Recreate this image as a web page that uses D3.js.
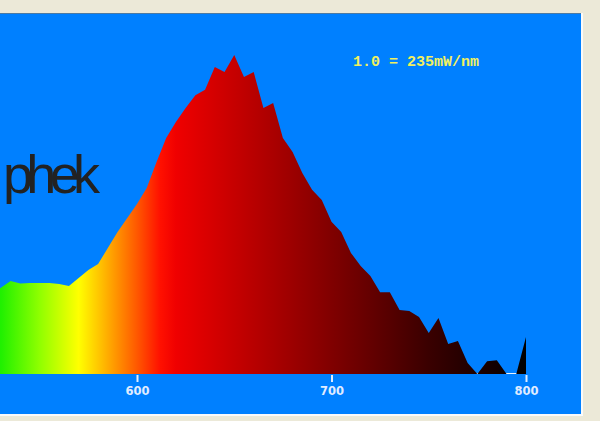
<!DOCTYPE html>
<html>
<head>
<meta charset="utf-8">
<script src="https://cdn.jsdelivr.net/npm/d3@7"></script>
<style>
  html, body { margin: 0; padding: 0; background: #ece9d8; }
  svg { display: block; }
</style>
</head>
<body>
<svg id="chart" width="600" height="421"></svg>
<script>
// ---- data ----
const wavelengths = [525,530,535,540,545,550,555,560,565,570,575,580,585,590,595,600,
  605,610,615,620,625,630,635,640,645,650,655,660,665,670,675,680,685,690,695,700,
  705,710,715,720,725,730,735,740,745,750,755,760,765,770,775,780,785,790,795,800];
const intensity = [0.25,0.261,0.282,0.274,0.276,0.276,0.276,0.273,0.267,0.291,0.315,0.333,0.382,0.430,0.473,0.515,
  0.564,0.642,0.715,0.764,0.806,0.845,0.861,0.930,0.915,0.967,0.900,0.915,0.806,0.821,0.715,0.673,0.609,0.558,0.527,0.461,
  0.430,0.367,0.327,0.297,0.248,0.248,0.194,0.191,0.173,0.124,0.170,0.091,0.100,0.033,0.0,0.039,0.042,0.0,0.0,0.112];
const xTicks = [600, 700, 800];
const scaleNote = "1.0 = 235mW/nm";
const logoText = "phek";

// spectral gradient (style): wavelength -> colour
const gradWl =  [530, 550, 570, 580, 590, 600, 612, 620, 700, 750, 800];
const gradCol = ["#20f000","#90ff00","#ffff00","#ffc800","#ff9000","#ff5800","#ff1000","#f00000","#800000","#3a0000","#000000"];

// ---- drawing ----
const svg = d3.select("#chart");
const x = d3.scaleLinear().domain([600, 800]).range([137, 526]);
const y = d3.scaleLinear().domain([0, 1]).range([374, 44]);

// panel
svg.append("rect").attr("x", 0).attr("y", 0).attr("width", 600).attr("height", 421).attr("fill", "#ece9d8");
svg.append("rect").attr("x", 0).attr("y", 13).attr("width", 581).attr("height", 401).attr("fill", "#0080ff");
svg.append("line").attr("x1", 0).attr("x2", 581).attr("y1", 13.5).attr("y2", 13.5).attr("stroke", "#4d7aa3").attr("stroke-width", 1);
svg.append("line").attr("x1", 582).attr("x2", 582).attr("y1", 13).attr("y2", 416).attr("stroke", "#fafafa").attr("stroke-width", 2);
svg.append("line").attr("x1", 0).attr("x2", 583).attr("y1", 415).attr("y2", 415).attr("stroke", "#fafafa").attr("stroke-width", 2);

// logo text
svg.append("text")
  .attr("x", 3).attr("y", 193)
  .attr("font-family", "Liberation Sans, Arial, sans-serif")
  .attr("font-size", 54)
  .attr("textLength", 97)
  .attr("lengthAdjust", "spacing")
  .attr("fill", "#222")
  .text(logoText);

// gradient
const defs = svg.append("defs");
const grad = defs.append("linearGradient").attr("id", "spec")
  .attr("gradientUnits", "userSpaceOnUse")
  .attr("x1", x(530)).attr("x2", x(800)).attr("y1", 0).attr("y2", 0);
grad.selectAll("stop").data(gradWl).join("stop")
  .attr("offset", d => (d - 530) / (800 - 530))
  .attr("stop-color", (d, i) => gradCol[i]);

// baseline (visible where the spectrum is zero)
svg.append("line")
  .attr("x1", x(530)).attr("x2", x(800))
  .attr("y1", y(0) - 0.5).attr("y2", y(0) - 0.5)
  .attr("stroke", "#e8f2ff").attr("stroke-width", 1);

// area
const data = wavelengths.map((w, i) => ({ w, v: intensity[i] }));
const area = d3.area().x(d => x(d.w)).y0(y(0)).y1(d => y(d.v));
svg.append("path").datum(data).attr("d", area).attr("fill", "url(#spec)");

// axis
const axis = svg.append("g").attr("transform", `translate(0,${y(0) + 1})`)
  .call(d3.axisBottom(x).tickValues(xTicks).tickSize(7).tickPadding(5).tickFormat(d3.format("d")));
axis.select(".domain").remove();
axis.selectAll(".tick line").attr("stroke", "#e0ecff").attr("stroke-width", 2);
axis.selectAll(".tick text")
  .attr("fill", "#e0ecff")
  .attr("font-family", "DejaVu Sans, Verdana, sans-serif")
  .attr("font-weight", "bold")
  .attr("font-size", 11.5);

// scale note
svg.append("text")
  .attr("x", 353).attr("y", 66)
  .attr("font-family", "Liberation Mono, Courier New, monospace")
  .attr("font-weight", "bold")
  .attr("font-size", 15)
  .attr("fill", "#f0f060")
  .text(scaleNote);
</script>
</body>
</html>
